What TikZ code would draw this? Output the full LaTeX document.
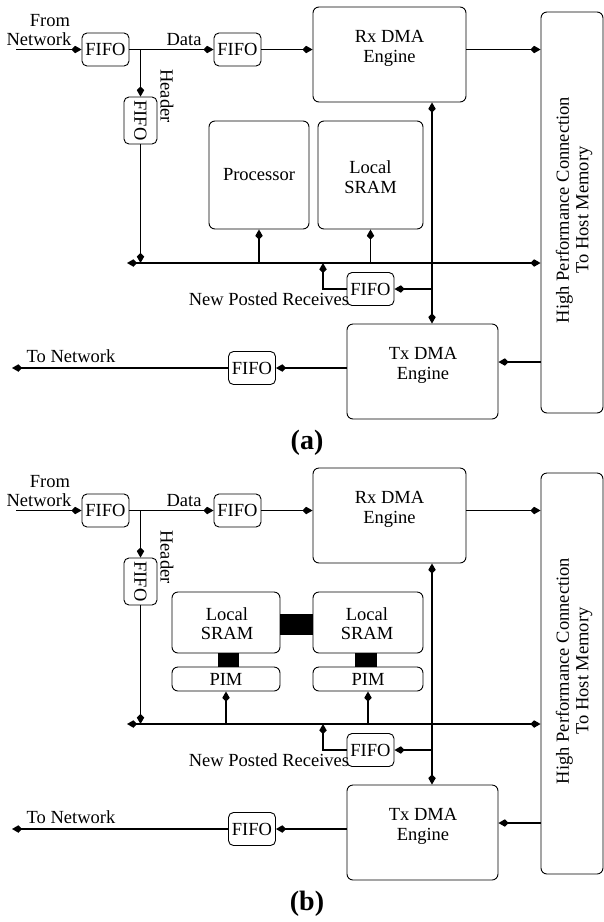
\documentclass[tikz,border=0pt]{standalone}
\usepackage{fontspec}
\setmainfont{Liberation Serif}
\usetikzlibrary{arrows.meta,calc}
\newcommand\myfs{\fontsize{18.5}{19.5}\selectfont}
\newcommand\mylabfs{\fontsize{28}{30}\selectfont}
\tikzset{
  blk/.style={draw, line width=0.9pt, rounded corners=6pt, inner sep=0pt},
  fifobox/.style={draw, line width=0.9pt, rounded corners=5pt, inner sep=0pt,
    minimum width=47pt, minimum height=33pt, font=\myfs},
  txt/.style={inner sep=0pt, align=center, font=\myfs},
  conn/.style={line width=1.6pt, -{Kite[length=10pt,width=7.5pt,inset=3.5pt]}},
  biconn/.style={line width=1.6pt,
    {Kite[length=10pt,width=7.5pt,inset=3.5pt]}-{Kite[length=10pt,width=7.5pt,inset=3.5pt]}},
}
\newcommand\panelbase[3]{%
\begin{scope}[shift={(0,#2)}]
  % input side
  \coordinate (#1in) at (16,49.5);
  \node[fifobox] (#1fi) at (105.5,49.5) {FIFO};
  \node[txt] at (50,21) {From};
  \node[txt] at (39,39) {Network};
  \draw[conn] (#1in) -- (#1fi.west);
  \node[fifobox] (#1fd) at (237.5,49.5) {FIFO};
  \node[txt] at (184,40) {Data};
  \draw[conn] (#1fi.east) -- (#1fd.west);
  \node[fifobox, minimum width=33pt, minimum height=47pt] (#1hf) at (140.5,120.5) {};
  \node[txt, rotate=-90] at (#1hf) {FIFO};
  \node[txt, rotate=-90] at (167,96) {Header};
  \draw[conn] (#1fi.east -| #1hf.north) -- (#1hf.north);
  % Rx DMA
  \node[blk, minimum width=153pt, minimum height=95pt] (#1rx) at (389.5,54.5) {};
  \node[txt] at (389.5,48.5) {Rx DMA\\Engine};
  \draw[conn] (#1fd.east) -- (#1rx.west |- #1fd.east);
  % host connection
  \node[blk, minimum width=62pt, minimum height=401pt] (#1hpc) at (572,212.5) {};
  \node[txt, rotate=90] at (574,210) {High Performance Connection\\To Host Memory};
  \draw[conn] (#1rx.east |- #1fd.east) -- (#1hpc.west |- #1fd.east);
  % bus
  \coordinate (#1busL) at (127,263);
  \draw[biconn] (#1busL) -- (#1hpc.west |- #1busL);
  \draw[conn] (#1hf.south) -- (#1hf.south |- #1busL);
  % Tx DMA
  \node[blk, minimum width=151pt, minimum height=95pt] (#1tx) at (422.5,371.5) {};
  \node[txt] at (423,365.5) {Tx DMA\\Engine};
  \coordinate (#1vx) at (432,200);
  \draw[biconn] (#1vx |- #1rx.south) -- (#1vx |- #1tx.north);
  % new posted receives
  \node[txt] at (269,299) {New Posted Receives};
  \node[fifobox] (#1fp) at (370.5,289) {FIFO};
  \draw[conn] (#1vx |- #1fp.east) -- (#1fp.east);
  \coordinate (#1npr) at (323,263);
  \draw[conn] (#1fp.west) -| (#1npr);
  % output side
  \coordinate (#1ty) at (520,362);
  \draw[conn] (#1hpc.west |- #1ty) -- (#1tx.east |- #1ty);
  \node[fifobox] (#1fo) at (252,368) {FIFO};
  \draw[conn] (#1tx.west |- #1fo) -- (#1fo.east);
  \coordinate (#1tn) at (12,368);
  \draw[conn] (#1fo.west) -- (#1tn);
  \node[txt] at (71,356) {To Network};
  \node[inner sep=0pt, font=\mylabfs\bfseries] at (307,443) {#3};
\end{scope}}
\begin{document}
\begin{tikzpicture}[x=1pt,y=-1pt]
\useasboundingbox (0,0) rectangle (604,922);
\panelbase{a}{0}{(a)}
\panelbase{b}{461}{(b)}
% middle of (a)
\node[blk, minimum width=100pt, minimum height=108pt, font=\myfs] (aproc) at (259,175) {Processor};
\node[blk, minimum width=105pt, minimum height=108pt] (asram) at (370.5,175) {};
\node[txt] at (370.5,177) {Local\\SRAM};
\draw[conn] (aproc.south |- abusL) -- (aproc.south);
\draw[conn] (asram.south |- abusL) -- (asram.south);
% middle of (b)
\begin{scope}[shift={(0,461)}]
  \node[blk, minimum width=108pt, minimum height=61pt] (bs1) at (226,161.5) {};
  \node[txt] at (227,162.5) {Local\\SRAM};
  \node[blk, minimum width=110pt, minimum height=61pt] (bs2) at (368,161.5) {};
  \node[txt] at (367,162.5) {Local\\SRAM};
  \node[blk, minimum width=108pt, minimum height=24pt, font=\myfs] (bp1) at (226,218) {PIM};
  \node[blk, minimum width=110pt, minimum height=24pt, font=\myfs] (bp2) at (368,218) {PIM};
  \fill (280,153) rectangle (313,174);
  \fill (218,192) rectangle (239,206);
  \fill (355,192) rectangle (377,206);
  \draw[conn] (bp1.south |- bbusL) -- (bp1.south);
  \draw[conn] (bp2.south |- bbusL) -- (bp2.south);
\end{scope}
\end{tikzpicture}
\end{document}
